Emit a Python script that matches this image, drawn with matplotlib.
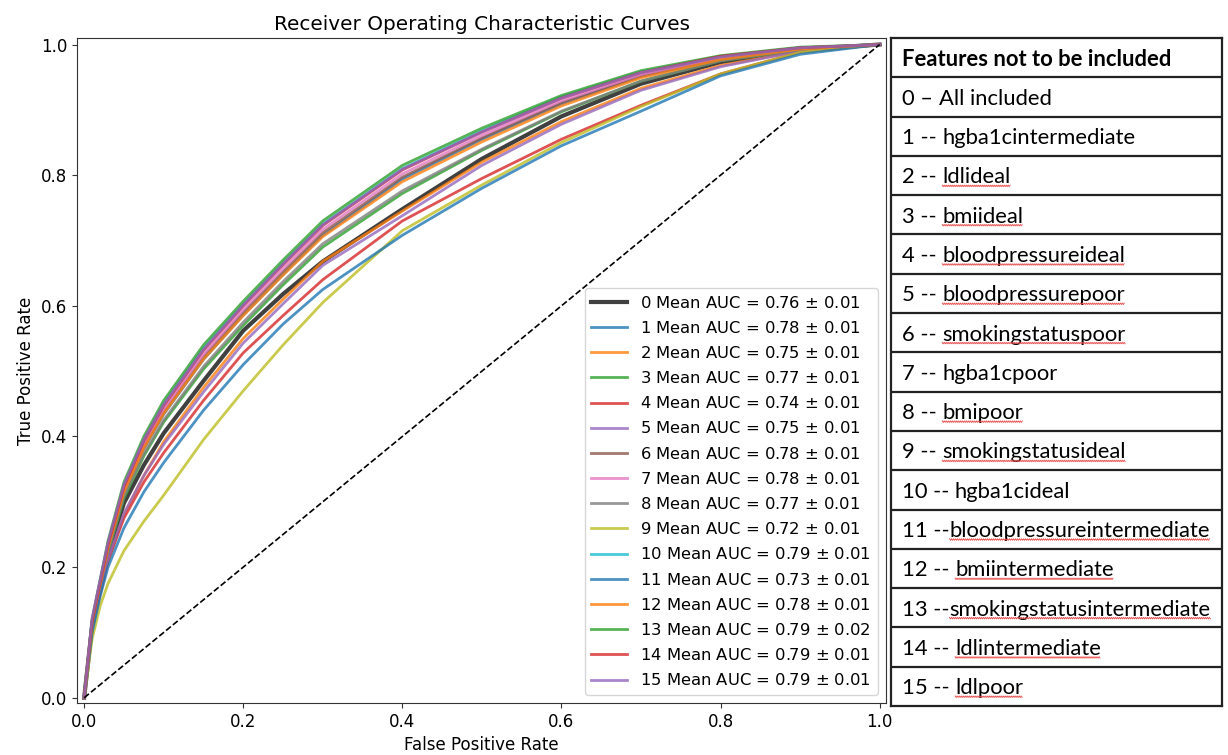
import numpy as np
import matplotlib.pyplot as plt
from matplotlib.lines import Line2D
from matplotlib.transforms import IdentityTransform

# mean ROC curves (shared FPR grid)
fpr = [0, .01, .02, .03, .05, .075, .1, .15, .2, .25, .3, .4, .5, .6, .7, .8, .9, 1.0]

tpr_0 = [0, .110, .165, .218, .298, .356, .405, .485, .562, .618, .668, .748, .825, .890, .940, .973, .992, 1]
tpr_1 = [0, .114, .172, .228, .314, .381, .434, .518, .586, .648, .708, .794, .855, .909, .951, .978, .993, 1]
tpr_2 = [0, .104, .158, .208, .280, .340, .392, .475, .550, .610, .668, .745, .820, .882, .933, .968, .990, 1]
tpr_3 = [0, .112, .168, .222, .305, .370, .422, .503, .570, .632, .690, .772, .838, .897, .944, .975, .992, 1]
tpr_4 = [0, .105, .160, .210, .275, .330, .375, .455, .528, .585, .640, .730, .795, .855, .907, .955, .988, 1]
tpr_5 = [0, .108, .162, .212, .282, .340, .388, .468, .543, .603, .662, .738, .815, .878, .930, .966, .990, 1]
tpr_6 = [0, .116, .174, .230, .317, .385, .438, .522, .590, .652, .712, .797, .857, .911, .952, .979, .994, 1]
tpr_7 = [0, .118, .177, .233, .320, .388, .442, .526, .594, .657, .717, .802, .861, .914, .954, .980, .994, 1]
tpr_8 = [0, .113, .170, .224, .308, .373, .425, .507, .575, .637, .695, .776, .840, .898, .944, .975, .992, 1]
tpr_9 = [0, .090, .140, .175, .225, .270, .310, .395, .470, .540, .605, .715, .785, .850, .905, .955, .988, 1]
tpr_10 = [0, .118, .178, .236, .325, .395, .450, .535, .602, .665, .725, .810, .868, .920, .958, .982, .995, 1]
tpr_11 = [0, .100, .155, .200, .260, .315, .360, .440, .510, .572, .625, .708, .780, .845, .898, .952, .985, 1]
tpr_12 = [0, .115, .173, .229, .315, .382, .435, .518, .585, .647, .706, .790, .851, .906, .949, .977, .993, 1]
tpr_13 = [0, .120, .180, .240, .330, .400, .455, .540, .607, .670, .730, .815, .872, .922, .960, .983, .996, 1]
tpr_14 = [0, .117, .176, .234, .323, .393, .447, .532, .600, .663, .723, .808, .866, .918, .957, .982, .995, 1]
tpr_15 = [0, .122, .180, .238, .326, .395, .449, .533, .601, .664, .724, .809, .866, .918, .957, .981, .995, 1]

auc_mean = [0.76, 0.78, 0.75, 0.77, 0.74, 0.75, 0.78, 0.78, 0.77, 0.72,
            0.79, 0.73, 0.78, 0.79, 0.79, 0.79]
auc_std = [0.01] * 13 + [0.02, 0.01, 0.01]

features = ["All included", "hgba1cintermediate", "ldlideal", "bmiideal",
            "bloodpressureideal", "bloodpressurepoor", "smokingstatuspoor",
            "hgba1cpoor", "bmipoor", "smokingstatusideal", "hgba1cideal",
            "bloodpressureintermediate", "bmiintermediate",
            "smokingstatusintermediate", "ldlintermediate", "ldlpoor"]
prefixes = ["0 \u2013 ", "1 -- ", "2 -- ", "3 -- ", "4 -- ", "5 -- ", "6 -- ",
            "7 -- ", "8 -- ", "9 -- ", "10 -- ", "11 --", "12 -- ", "13 --",
            "14 -- ", "15 -- "]
spell_marked = [False, False, True, True, True, True, True, False, True, True,
                False, True, True, True, True, True]

curves = [tpr_0, tpr_1, tpr_2, tpr_3, tpr_4, tpr_5, tpr_6, tpr_7, tpr_8,
          tpr_9, tpr_10, tpr_11, tpr_12, tpr_13, tpr_14, tpr_15]

fig = plt.figure(figsize=(12.28, 7.55), dpi=100)
ax = fig.add_axes([77 / 1228, 52 / 755, 809 / 1228, 665 / 755])

for i, tpr in enumerate(curves):
    lab = f"{i} Mean AUC = {auc_mean[i]:.2f} $\\pm$ {auc_std[i]:.2f}"
    if i == 0:
        ax.plot(fpr, tpr, color='k', lw=3, alpha=0.75, label=lab)
    else:
        ax.plot(fpr, tpr, color=f"C{(i - 1) % 10}", lw=2, alpha=0.8, label=lab)

ax.plot([0, 1], [0, 1], 'k--', lw=1.2)
ax.set_xlim(-0.009, 1.008)
ax.set_ylim(-0.008, 1.01)
ax.set_xticks([0, 0.2, 0.4, 0.6, 0.8, 1.0])
ax.set_yticks([0, 0.2, 0.4, 0.6, 0.8, 1.0])
ax.tick_params(labelsize=12, color='#333333')
for s in ax.spines.values():
    s.set_color('#333333')
ax.set_title('Receiver Operating Characteristic Curves', fontsize=14.4)
ax.set_xlabel('False Positive Rate', fontsize=12)
ax.set_ylabel('True Positive Rate', fontsize=12)
ax.legend(loc='lower right', fontsize=11.8, handlelength=2.2, labelspacing=0.56)

# table of excluded features on the right
tab = fig.add_axes([891 / 1228, 49 / 755, 331 / 1228, 668 / 755])
tab.set_xlim(0, 1)
tab.set_ylim(17, 0)
tab.set_xticks([])
tab.set_yticks([])
for s in tab.spines.values():
    s.set_color('#222222')
    s.set_linewidth(1.6)
for r in range(1, 17):
    tab.axhline(r, color='#222222', lw=1.6)

tfont = dict(family='Lato', fontsize=15.8, color='black')
tab.text(0.033, 0.5 + 0.2, 'Features not to be included', va='baseline',
         fontweight='bold', **tfont)

words = []
for i, feat in enumerate(features):
    y = i + 1.5 + 0.2
    pre = tab.text(0.033, y, prefixes[i], va='baseline', **tfont)
    w = tab.annotate(feat, xy=(1, 0), xycoords=pre, va='bottom', ha='left', **tfont)
    if spell_marked[i]:
        words.append(w)

fig.canvas.draw()
rend = fig.canvas.get_renderer()
for w in words:
    bb = w.get_window_extent(rend)
    xs = np.arange(bb.x0, bb.x1, 1.0)
    ys = bb.y0 + 1.5 + 0.8 * np.where(np.arange(len(xs)) % 2 == 0, 1, -1)
    fig.add_artist(Line2D(xs, ys, transform=IdentityTransform(),
                          color='#e84848', lw=0.6))

fig.savefig('out.png', dpi=100)
